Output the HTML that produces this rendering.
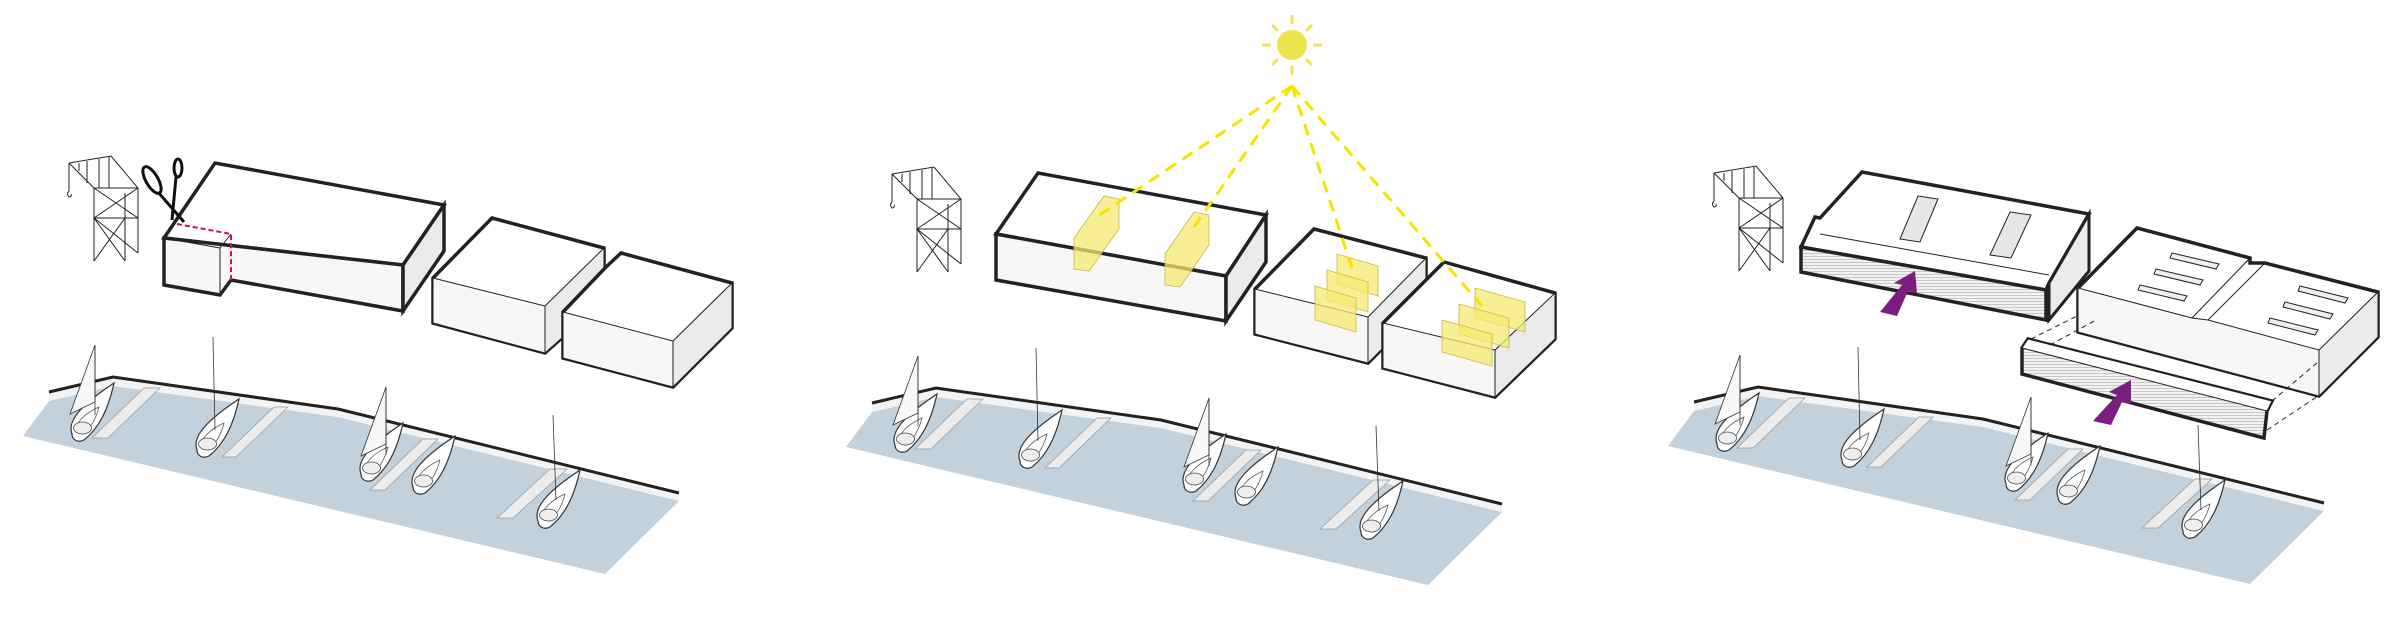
<!DOCTYPE html>
<html><head><meta charset="utf-8"><style>html,body{margin:0;padding:0;background:#fff}svg{display:block}</style></head>
<body>
<svg width="2400" height="624" viewBox="0 0 2400 624" xmlns="http://www.w3.org/2000/svg">
<defs>
<pattern id="hatch" width="8" height="3" patternUnits="userSpaceOnUse">
<rect width="8" height="3" fill="#f2f2f2"/>
<line x1="0" y1="1.5" x2="8" y2="1.5" stroke="#aaa" stroke-width="0.6"/>
</pattern>
<g id="hull">
<g transform="scale(1.5)">
<path d="M-12,12 C-16,2 -2,-10 16,-22 C12,-4 6,8 -4,16 C-8,18 -12,16 -12,12Z" fill="#fff" stroke="#333" stroke-width="0.8"/>
<path d="M-9,11 C-11,5 -3,-2 6,-6 C4,2 0,8 -4,12Z" fill="none" stroke="#555" stroke-width="0.5"/>
<ellipse cx="-5" cy="8" rx="6" ry="4" fill="#eee" stroke="#444" stroke-width="0.5"/>
</g>
</g>
<g id="crane" fill="none" stroke="#222" stroke-width="1">
<path d="M0,0 L42,-7 L69,25 L69,90 M0,0 L25,25 L69,25 M25,25 L25,98 M56,30 L56,98 M25,25 L69,55 M69,25 L25,55 M25,55 L69,55 M25,55 L56,98 M56,55 L25,98 M25,55 L69,90 M10,0 L10,8 M18,-2 L18,20 M30,-4 L30,25 M40,-6 L40,25 M0,0 L0,28 M0,28 q-3,3 0,6 q3,0 2,-3"/>
</g>
<g id="base">
<polygon points="23,436 49,401 113,386 338,417 679,501 605,574" fill="#c2d1db"/>
<polygon points="49,392 113,377 338,409 679,493 679,501 338,417 113,386 49,401" fill="#f3f3f3"/>
<polyline points="49,392 113,377 338,409 679,493" fill="none" stroke="#222" stroke-width="3"/>
<g fill="#ececec" stroke="#999" stroke-width="0.7">
<polygon points="92,438 108,438 160,388 144,388"/>
<polygon points="222,457 236,457 288,407 274,407"/>
<polygon points="370,490 385,490 438,439 423,439"/>
<polygon points="497,518 513,518 567,469 550,469"/>
</g>
<use href="#hull" x="90" y="416"/>
<use href="#hull" x="215" y="432"/>
<use href="#hull" x="379" y="456"/>
<use href="#hull" x="431" y="469"/>
<use href="#hull" x="556" y="503"/>
<g stroke="#333" stroke-width="0.8" fill="#f8f8f8">
<polygon points="95,345 70,414 95,402"/>
<polygon points="386,387 361,456 386,444"/>
<line x1="95" y1="345" x2="95" y2="415"/>
<line x1="386" y1="387" x2="386" y2="455"/>
<line x1="213" y1="337" x2="215" y2="430"/>
<line x1="553" y1="415" x2="556" y2="500"/>
</g>
<use href="#crane" x="69" y="163"/>
</g>
</defs>

<!-- Panel 1 -->
<use href="#base"/>
<g stroke="#222" stroke-linejoin="miter">
<polygon points="164,238 403,265 444,205 215,163" fill="#fff" stroke-width="3.5"/>
<polygon points="164,238 403,265 403,311 231,280 220,295 164,285" fill="#f7f7f7" stroke-width="3.5"/>
<polygon points="403,265 444,205 444,251 403,311" fill="#ebebeb" stroke-width="3.5"/>
<line x1="164" y1="238" x2="220" y2="248" stroke-width="1"/>
<line x1="220" y1="248" x2="220" y2="295" stroke-width="1"/>
<line x1="220" y1="248" x2="231" y2="234" stroke-width="1"/>
<polygon points="492,218 604,248 604,268 563,337 545,353 433,323 433,278" fill="#fff" stroke-width="3.5"/>
<polygon points="433,278 545,306 545,353 433,323" fill="#f7f7f7" stroke-width="1"/>
<polygon points="545,306 604,248 604,268 563,320 563,337 545,353" fill="#ebebeb" stroke-width="1"/>
<polygon points="621,253 732,283 732,328 673,387 563,358 563,312 605,268" fill="#fff" stroke-width="3.5"/>
<polygon points="563,312 673,341 673,387 563,358" fill="#f7f7f7" stroke-width="1"/>
<polygon points="673,341 732,283 732,328 673,387" fill="#ebebeb" stroke-width="1"/>
</g>
<polyline points="177,224 231,234 231,280" fill="none" stroke="#d0104a" stroke-width="2" stroke-dasharray="5,3"/>
<g fill="none" stroke="#111" stroke-width="3">
<ellipse cx="152" cy="180" rx="6" ry="15" transform="rotate(-30 152 180)"/>
<ellipse cx="178" cy="168" rx="4" ry="9"/>
<path d="M158,192 L184,222 M176,177 L172,220"/>
</g>

<!-- Panel 2 -->
<use href="#base" x="823" y="11"/>
<g stroke="#222">
<polygon points="996,234 1226,276 1266,215 1038,173" fill="#fff" stroke-width="3.5"/>
<polygon points="996,234 1226,276 1226,321 996,280" fill="#f7f7f7" stroke-width="3.5"/>
<polygon points="1226,276 1266,215 1266,262 1226,321" fill="#ebebeb" stroke-width="3.5"/>
<polygon points="1314,229 1426,258 1426,280 1383,323 1383,348 1368,363 1255,334 1255,289" fill="#fff" stroke-width="3.5"/>
<polygon points="1255,289 1368,317 1368,363 1255,334" fill="#f7f7f7" stroke-width="1"/>
<polygon points="1368,317 1426,258 1426,280 1383,323 1383,348 1368,363" fill="#ebebeb" stroke-width="1"/>
<polygon points="1444,262 1555,293 1555,339 1495,397 1383,368 1383,323 1426,280" fill="#fff" stroke-width="3.5"/>
<polygon points="1383,323 1495,350 1495,397 1383,368" fill="#f7f7f7" stroke-width="1"/>
<polygon points="1495,350 1555,293 1555,339 1495,397" fill="#ebebeb" stroke-width="1"/>
</g>
<g fill="#f6e870" fill-opacity="0.75" stroke="#c8b840" stroke-width="0.8">
<polygon points="1074,238 1104,196 1119,199 1119,229 1089,271 1074,269"/>
<polygon points="1165,254 1194,212 1209,215 1209,245 1180,287 1165,285"/>
<polygon points="1337,254 1378,266 1378,296 1337,284"/>
<polygon points="1327,270 1368,282 1368,312 1327,300"/>
<polygon points="1315,286 1356,298 1356,332 1315,320"/>
<polygon points="1475,288 1525,302 1525,332 1475,318"/>
<polygon points="1459,304 1509,318 1509,348 1459,334"/>
<polygon points="1442,320 1492,334 1492,366 1442,352"/>
</g>
<g fill="none" stroke="#f5e400" stroke-width="3" stroke-dasharray="12,8">
<line x1="1292" y1="86" x2="1095" y2="218"/>
<line x1="1292" y1="86" x2="1192" y2="230"/>
<line x1="1292" y1="86" x2="1354" y2="274"/>
<line x1="1292" y1="86" x2="1482" y2="306"/>
</g>
<circle cx="1292" cy="45" r="15" fill="#ede54e"/>
<g stroke="#ede54e" stroke-width="3">
<line x1="1292" y1="15" x2="1292" y2="24"/><line x1="1292" y1="66" x2="1292" y2="75"/>
<line x1="1262" y1="45" x2="1271" y2="45"/><line x1="1313" y1="45" x2="1322" y2="45"/>
<line x1="1272" y1="25" x2="1278" y2="31"/><line x1="1306" y1="59" x2="1312" y2="65"/>
<line x1="1312" y1="25" x2="1306" y2="31"/><line x1="1278" y1="59" x2="1272" y2="65"/>
</g>

<!-- Panel 3 -->
<use href="#base" x="1645" y="10"/>
<g stroke="#222">
<polygon points="1801,247 2046,290 2049,283 2089,214 1862,172 1820,218 1815,217" fill="#fff" stroke-width="3.5"/>
<polygon points="1801,247 2046,290 2046,320 1801,272" fill="url(#hatch)" stroke-width="3.5"/>
<polygon points="2049,283 2089,214 2089,271 2049,320" fill="#ebebeb" stroke-width="3"/>
<line x1="1820" y1="234" x2="2049" y2="275" stroke-width="1"/>
<polygon points="1900,239 1918,196 1938,199 1920,242" fill="#e6e6e6" stroke-width="1"/>
<polygon points="1990,255 2010,212 2031,215 2011,258" fill="#e6e6e6" stroke-width="1"/>
<polygon points="2137,228 2250,258 2250,263 2265,263 2378,292 2378,337 2319,396 2078,332 2078,288" fill="#fff" stroke-width="3.5"/>
<polygon points="2078,288 2192,318 2208,320 2319,350 2319,396 2078,332" fill="#f7f7f7" stroke-width="1"/>
<polygon points="2319,350 2378,292 2378,337 2319,396" fill="#ebebeb" stroke-width="1"/>
<line x1="2192" y1="318" x2="2250" y2="258" stroke-width="1"/>
<line x1="2208" y1="320" x2="2265" y2="263" stroke-width="1"/>
<g fill="#f0f0f0" stroke-width="1">
<polygon points="2172,253 2219,264 2216,269 2170,258"/>
<polygon points="2156,269 2203,280 2200,285 2154,274"/>
<polygon points="2140,285 2187,296 2184,301 2138,290"/>
<polygon points="2300,286 2348,298 2345,303 2298,291"/>
<polygon points="2285,302 2333,314 2330,319 2283,307"/>
<polygon points="2270,318 2318,330 2315,335 2268,323"/>
</g>
<polygon points="2028,339 2272,401 2267,411 2264,438 2022,374 2022,348" fill="url(#hatch)" stroke-width="3.5"/>
<polygon points="2028,339 2272,401 2267,411 2022,348" fill="#fff" stroke-width="1"/>
</g>
<g stroke="#222" stroke-width="1" stroke-dasharray="5,4">
<line x1="2031" y1="339" x2="2079" y2="315"/>
<line x1="2050" y1="345" x2="2096" y2="320"/>
<line x1="2272" y1="401" x2="2318" y2="362"/>
<line x1="2267" y1="430" x2="2318" y2="396"/>
</g>
<g fill="#7b1f7e">
<polygon points="1880,312 1897,316 1908,291 1917,293 1915,271 1894,283 1902,285"/>
<polygon points="2093,421 2111,425 2122,402 2131,404 2131,380 2109,392 2117,395"/>
</g>
</svg>
</body></html>
